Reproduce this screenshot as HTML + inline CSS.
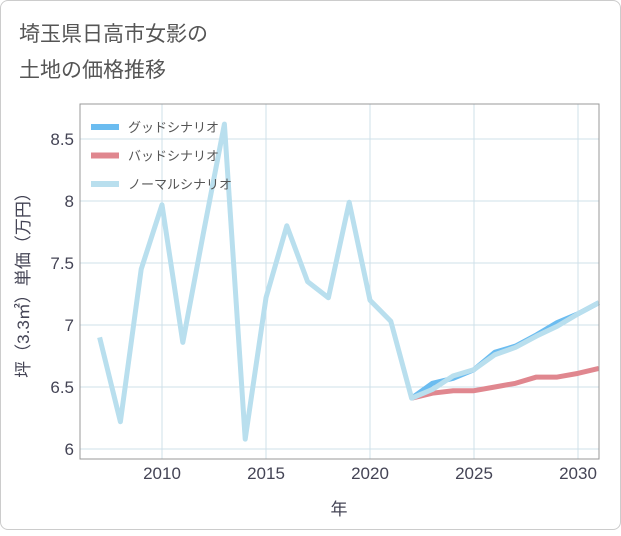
<!DOCTYPE html>
<html><head><meta charset="utf-8"><style>
body{margin:0;background:#fff;}
#card{position:absolute;left:0;top:0;width:619px;height:528px;border:1px solid #ccc;border-radius:8px;background:#fff;}
svg text{font-family:"Liberation Sans","Noto Sans CJK JP",sans-serif;}
</style></head><body>
<div id="card">
<svg id="chart" width="621" height="530">
<text x="18" y="40" font-size="21" fill="#555">埼玉県日高市女影の</text>
<text x="18" y="76" font-size="21" fill="#555">土地の価格推移</text>
<g id="grid"></g><g id="series"></g><g id="axes"></g>
</svg></div>
<script>
const years=[2007,2008,2009,2010,2011,2012,2013,2014,2015,2016,2017,2018,2019,2020,2021,2022];
const histValues=[6.9,6.22,7.45,7.97,6.86,7.75,8.62,6.08,7.22,7.8,7.35,7.22,7.99,7.2,7.03,6.41];
const futYears=[2022,2023,2024,2025,2026,2027,2028,2029,2030,2031];
const goodValues=[6.41,6.53,6.57,6.64,6.78,6.83,6.92,7.02,7.09,7.18];
const badValues=[6.41,6.45,6.47,6.47,6.5,6.53,6.58,6.58,6.61,6.65];
const normalValues=[6.41,6.48,6.59,6.64,6.76,6.82,6.91,6.99,7.09,7.18];
const xTicks=[2010,2015,2020,2025,2030];
const yTicks=[6,6.5,7,7.5,8,8.5];
const L=79,R=598,T=103,B=458;
const x=v=>161+(v-2010)*20.8;
const y=v=>448-(v-6)*124;
const NS="http://www.w3.org/2000/svg";
function mk(tag,attrs,parent,text){const e=document.createElementNS(NS,tag);for(const k in attrs)e.setAttribute(k,attrs[k]);if(text!==undefined)e.textContent=text;parent.appendChild(e);return e;}
const grid=document.getElementById('grid'),axes=document.getElementById('axes'),ser=document.getElementById('series');
for(const t of xTicks){const l=mk('line',{x1:x(t),x2:x(t),y1:T,y2:B,stroke:'#cfe0ea','stroke-width':1},grid);


const tx=mk('text',{x:x(t),y:478,'font-size':17,fill:'#445','text-anchor':'middle'},axes,String(t));

}
for(const t of yTicks){const l=mk('line',{x1:L,x2:R,y1:y(t),y2:y(t),stroke:'#cfe0ea','stroke-width':1},grid);


const tx=mk('text',{x:73,y:y(t)+6,'font-size':17,fill:'#445','text-anchor':'end'},axes,String(t));

}
const fr=mk('rect',{x:L,y:T,width:R-L,height:B-T,fill:'none',stroke:'#999','stroke-width':1},axes);


function line(xs,vs,color,name){const p=mk('polyline',{points:xs.map((yr,i)=>x(yr)+','+y(vs[i])).join(' '),fill:'none',stroke:color,'stroke-width':5,'stroke-linejoin':'round'},ser);

}
line(futYears,badValues,'#e0878f','bad-scenario-line');
line(futYears,goodValues,'#6bbcf0','good-scenario-line');
line(years.concat(futYears.slice(1)),histValues.concat(normalValues.slice(1)),'#b9dfee','normal-scenario-line');
const leg=[['グッドシナリオ','#6bbcf0'],['バッドシナリオ','#e0878f'],['ノーマルシナリオ','#b9dfee']];
leg.forEach((d,i)=>{const g=mk('g',{},axes);


const yy=126+i*28.5;mk('line',{x1:90,x2:118,y1:yy,y2:yy,stroke:d[1],'stroke-width':6},g);mk('text',{x:127,y:yy+5,'font-size':13,fill:'#555'},g,d[0]);});
const xt=mk('text',{x:338,y:514,'font-size':17,fill:'#445','text-anchor':'middle'},axes,'年');


const yt=mk('text',{x:0,y:0,'font-size':17,fill:'#445','text-anchor':'middle',transform:'translate(28,280) rotate(-90)'},axes,'坪（3.3㎡）単価（万円）');


</script>
</body></html>
